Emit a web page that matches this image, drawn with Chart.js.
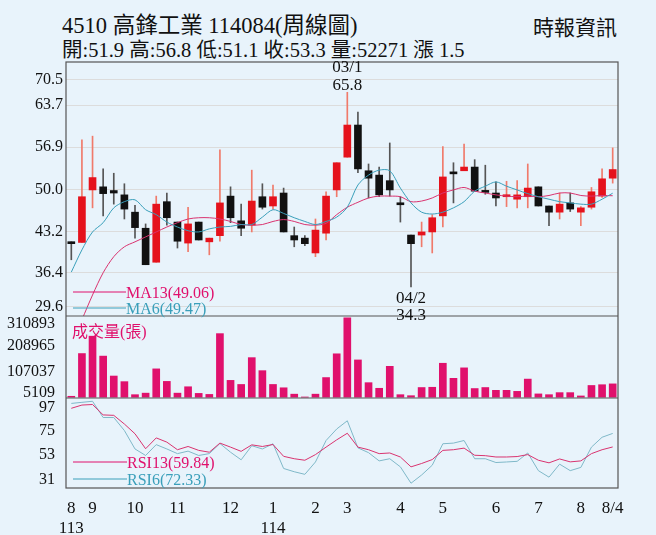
<!DOCTYPE html>
<html><head><meta charset="utf-8">
<script src="https://cdn.jsdelivr.net/npm/chart.js@4"></script>
<style>
body{margin:0;background:#e8f3fb;width:656px;height:535px;overflow:hidden;font-family:"Liberation Serif","Noto Sans CJK TC",serif;}
#wrap{position:absolute;left:0;top:0;width:656px;height:535px;}
.t{position:absolute;color:#111;white-space:nowrap;}
</style></head><body>
<div class="t" style="left:62px;top:7px;font-size:22.5px;">4510 高鋒工業 114084(周線圖)</div>
<div class="t" style="left:62px;top:33px;font-size:20.5px;">開:51.9 高:56.8 低:51.1 收:53.3 量:52271 漲 1.5</div>
<div class="t" style="left:533px;top:11px;font-size:21px;">時報資訊</div>
<div id="wrap"><canvas id="c" width="656" height="535"></canvas></div>
<script>
const openP=[41.5,41.5,50.0,50.5,49.9,49.2,46.4,43.8,38.3,48.1,44.8,41.4,44.8,41.6,42.6,49.0,45.0,44.3,48.9,47.4,49.5,42.6,42.2,39.8,43.0,50.0,55.3,60.5,53.1,52.4,51.5,47.9,42.7,42.7,43.2,45.8,52.8,53.1,53.7,49.8,49.5,48.9,48.5,48.9,50.5,47.4,46.4,47.9,46.4,47.2,49.0,51.9];
const highP=[41.6,58.1,58.7,53.4,52.7,51.0,47.5,44.5,49.0,49.5,44.8,47.2,44.8,42.2,56.5,50.5,47.7,53.2,51.0,50.8,50.3,44.0,42.6,45.3,49.7,54.4,65.8,62.6,54.2,53.7,57.6,48.9,42.7,44.8,46.0,57.0,54.4,57.4,54.9,54.0,51.3,51.4,51.5,54.2,50.5,47.4,49.5,49.5,47.3,50.4,53.4,56.8];
const lowP=[38.7,41.5,47.1,45.8,47.7,45.3,42.2,37.9,38.3,44.3,40.6,40.0,41.9,39.5,41.7,44.7,42.6,43.2,46.9,46.9,43.2,40.8,41.0,39.2,41.9,48.9,55.3,52.8,48.7,48.9,49.0,44.8,34.3,40.8,39.8,44.0,47.9,53.1,49.8,49.3,47.4,47.3,47.1,47.1,47.4,44.2,45.3,46.5,44.2,46.9,48.8,51.1];
const closeP=[41.3,48.9,52.0,49.4,49.5,46.9,43.9,37.9,47.7,45.5,41.7,44.5,41.9,42.2,47.9,45.5,43.8,48.2,47.2,48.9,43.2,41.9,41.3,43.5,49.0,54.4,60.5,53.4,51.9,49.2,50.0,47.6,41.3,43.2,45.5,52.1,52.6,53.7,49.8,49.6,48.7,49.0,49.2,50.3,47.4,46.4,47.7,46.9,47.1,49.7,51.8,53.3];
const ma6=[36.7,40.3,43.2,44.7,47.1,48.1,48.4,46.8,46.0,44.8,44.0,43.4,43.2,43.7,44.0,44.1,44.4,44.4,45.6,46.8,46.2,45.5,44.9,44.4,44.9,45.6,47.2,50.8,52.4,53.2,53.1,50.3,47.9,46.4,46.1,46.4,47.1,48.1,49.8,50.6,51.3,50.6,50.0,49.4,48.9,48.5,48.1,47.9,47.7,47.7,48.5,49.47];
const ma13=[null,29.0,33.0,36.6,39.2,40.8,41.6,42.4,43.2,44.0,44.7,45.3,45.5,45.5,45.3,44.9,44.4,44.3,44.4,44.9,45.2,44.9,44.4,44.3,44.6,46.0,47.2,48.0,48.7,49.0,49.0,48.9,48.1,48.2,48.7,49.5,50.0,50.4,49.8,49.5,49.2,49.0,48.9,49.0,48.9,49.1,49.5,49.5,49.1,49.0,49.1,49.06];
const volume=[3700,171000,239000,161000,83000,61000,10000,16000,111000,62000,16000,41000,15000,11000,249000,66000,50000,155000,104000,50000,37000,12000,1000,12000,77000,170000,310893,146000,57000,35000,121000,10000,6000,38000,39000,133000,74000,115000,34000,38000,27000,27000,23000,71000,13000,10000,18000,18000,5000,46000,49000,52271];
const rsi13=[95.5,98.5,99,89.4,89,81,72,58.2,68.2,64.3,57.3,60.3,56.7,55,63.4,59.7,55.8,61.8,60.3,62.1,51.2,49,47.6,52.8,59.7,66.4,72.5,59.7,57.3,53.7,54.3,50.6,41.5,44.6,48.2,56.7,57.3,58.8,52.2,51.8,50.6,50.6,51,52.8,47.6,45.2,48.8,46.1,47,53.7,57.3,59.84];
const rsi6=[100,101,102,87,87,75,58,52,62,58,53.7,56,52,53.7,63,55,48,61,58,62.8,40,37,34.6,46,65.8,76.4,84,59,54.6,47,49,41.5,26.4,34,43,62.8,63.4,65.8,49,49,45.5,46,46.6,54.3,38,32,44,38,41,59.7,68.8,72.33];
// tick label texts and where each sits on its axis
const priceTickLabels=['29.6','36.4','43.2','50.0','56.9','63.7','70.5'];
const priceTickPos=[31.1,36.6,43.2,50.0,56.9,63.7,67.9];
const volTickLabels=['5109','107037','208965','310893'];
const volTickPos=[16000,100000,200000,286000];
const rsiTickLabels=['31','53','75','97'];
const rsiTickPos=[30,53,75,96];
const monthLabels={0:['8','113'],2:'9',6:'10',10:'11',15:'12',19:['1','114'],23:'2',26:'3',31:'4',35:'5',40:'6',44:'7',48:'8',51:'8/4'};

const labels=closeP.map((_,i)=>i);
const up=closeP.map((c,i)=>c>=openP[i]);
const RED='#e5121c',BLK='#111',PINK='#e0106c',TEAL='#3a9fba',MPINK='#d9336f';
const F='"Liberation Serif","Noto Sans CJK TC",serif';
const fitW=s=>{s.width=66;};
const setTicks=arr=>s=>{s.ticks=arr.map(v=>({value:v}));};
const tk=(lbls)=>({color:'#111',padding:3,autoSkip:false,font:{family:F,size:16},callback:(v,i)=>lbls[i]});

const deco={id:'deco',afterDraw(ch){
  const c=ch.ctx,a=ch.chartArea,x=ch.scales.x,yp=ch.scales.y,yv=ch.scales.yv;
  c.save();
  c.strokeStyle='#555';c.lineWidth=1.2;
  [yp.bottom,yv.bottom].forEach(y=>{c.beginPath();c.moveTo(a.left,y);c.lineTo(a.right,y);c.stroke();});
  c.strokeRect(a.left,a.top,a.right-a.left,a.bottom-a.top);
  c.font='17px '+F;c.textAlign='center';c.fillStyle='#111';
  let px=x.getPixelForValue(26),py=yp.getPixelForValue(highP[26]);
  c.fillText('03/1',px,py-20);c.fillText('65.8',px,py-2);
  px=x.getPixelForValue(32);py=yp.getPixelForValue(lowP[32]);
  c.fillText('04/2',px,py+16);c.fillText('34.3',px,py+33);
  c.textAlign='left';c.font='16px '+F;
  const leg=(txt,col,y,lx)=>{c.strokeStyle=col;c.lineWidth=1;c.beginPath();c.moveTo(a.left+7,y);c.lineTo(lx,y);c.stroke();c.fillStyle=col;c.fillText(txt,lx,y+6);};
  leg('MA13(49.06)',PINK,292,126);leg('MA6(49.47)',TEAL,308,126);
  c.fillStyle=PINK;c.fillText('成交量(張)',72,337);
  leg('RSI13(59.84)',PINK,462,127);leg('RSI6(72.33)',TEAL,479,127);
  c.restore();
}};

new Chart(document.getElementById('c'),{
  data:{labels,datasets:[
    {type:'bar',data:labels.map(i=>[lowP[i],highP[i]]),yAxisID:'y',barThickness:1,grouped:false,order:3,
     backgroundColor:up.map(u=>u?'#f07a6a':'#555')},
    {type:'bar',data:labels.map(i=>[openP[i],closeP[i]]),yAxisID:'y',barThickness:7,grouped:false,order:2,minBarLength:2,
     backgroundColor:up.map(u=>u?RED:BLK)},
    {type:'line',data:ma6,yAxisID:'y',borderColor:TEAL,borderWidth:1,pointRadius:0,tension:0.3,order:1},
    {type:'line',data:ma13,yAxisID:'y',borderColor:MPINK,borderWidth:1,pointRadius:0,tension:0.3,order:1},
    {type:'bar',data:volume,yAxisID:'yv',barThickness:7,grouped:false,backgroundColor:PINK,order:2},
    {type:'line',data:rsi13,yAxisID:'yr',borderColor:MPINK,borderWidth:1,pointRadius:0,order:1},
    {type:'line',data:rsi6,yAxisID:'yr',borderColor:'#7fb8c8',borderWidth:1,pointRadius:0,order:1}
  ]},
  options:{responsive:false,animation:false,
    layout:{padding:{top:62,right:38,left:0,bottom:0}},
    plugins:{legend:{display:false},tooltip:{enabled:false}},
    scales:{
      x:{type:'category',offset:true,grid:{display:false},border:{display:false},
         afterFit:s=>{s.height=47;},
         ticks:{autoSkip:false,maxRotation:0,padding:2,color:'#111',font:{family:F,size:17},
           callback:(v,i)=>monthLabels[i]!==undefined?monthLabels[i]:''}},
      yr:{type:'linear',position:'left',stack:'s',stackWeight:90,min:22,max:105,afterFit:fitW,afterBuildTicks:setTicks(rsiTickPos),
         grid:{display:false},border:{display:false},ticks:tk(rsiTickLabels)},
      yv:{type:'linear',position:'left',stack:'s',stackWeight:82,min:-3000,max:318000,afterFit:fitW,afterBuildTicks:setTicks(volTickPos),
         grid:{display:false},border:{display:false},ticks:tk(volTickLabels)},
      y:{type:'linear',position:'left',stack:'s',stackWeight:254,min:29.6,max:70.7,afterFit:fitW,afterBuildTicks:setTicks(priceTickPos),
         grid:{color:'#dcdcdc',drawTicks:false},border:{display:false},
         ticks:tk(priceTickLabels)}
    }},
  plugins:[deco]
});
</script></body></html>
